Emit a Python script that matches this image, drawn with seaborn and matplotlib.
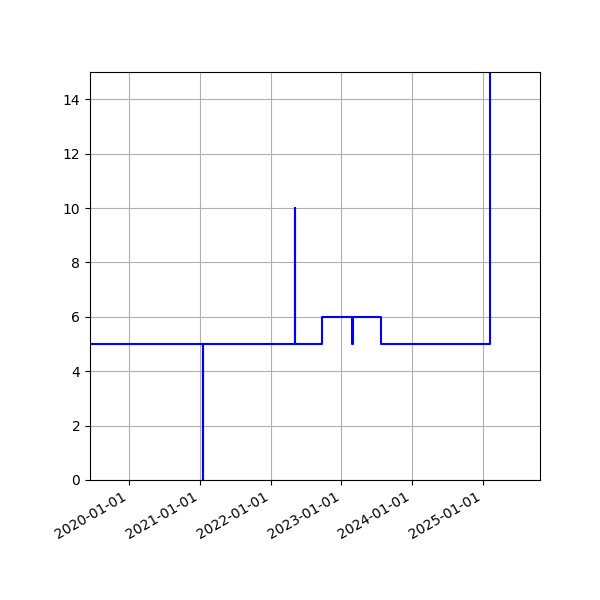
import matplotlib
matplotlib.use("Agg")
import matplotlib.pyplot as plt
import matplotlib.dates as mdates
import pandas as pd
import seaborn as sns

# change points of the series (steps-post)
dates = ["2019-06-14", "2021-01-16", "2021-01-19", "2022-05-05", "2022-05-08",
         "2022-09-25", "2023-02-25", "2023-02-28", "2023-07-25", "2025-02-08",
         "2025-10-22"]
values = [5, 0, 5, 10, 5, 6, 5, 6, 5, 20, 20]

df = pd.DataFrame({"date": pd.to_datetime(dates), "value": values})

fig, ax = plt.subplots(figsize=(6, 6), dpi=100)
sns.lineplot(data=df, x="date", y="value", color="blue", drawstyle="steps-post",
             linewidth=1.5, ax=ax)
ax.set_xlim(pd.Timestamp("2019-06-14"), pd.Timestamp("2025-10-22"))
ax.set_ylim(0, 15)
ax.xaxis.set_major_locator(mdates.YearLocator())
ax.xaxis.set_major_formatter(mdates.DateFormatter("%Y-%m-%d"))
ax.set_xlabel("")
ax.set_ylabel("")
ax.grid(True)
fig.autofmt_xdate()
fig.subplots_adjust(left=0.15, right=0.9, top=0.88, bottom=0.2)
fig.savefig("out.png", dpi=100)
